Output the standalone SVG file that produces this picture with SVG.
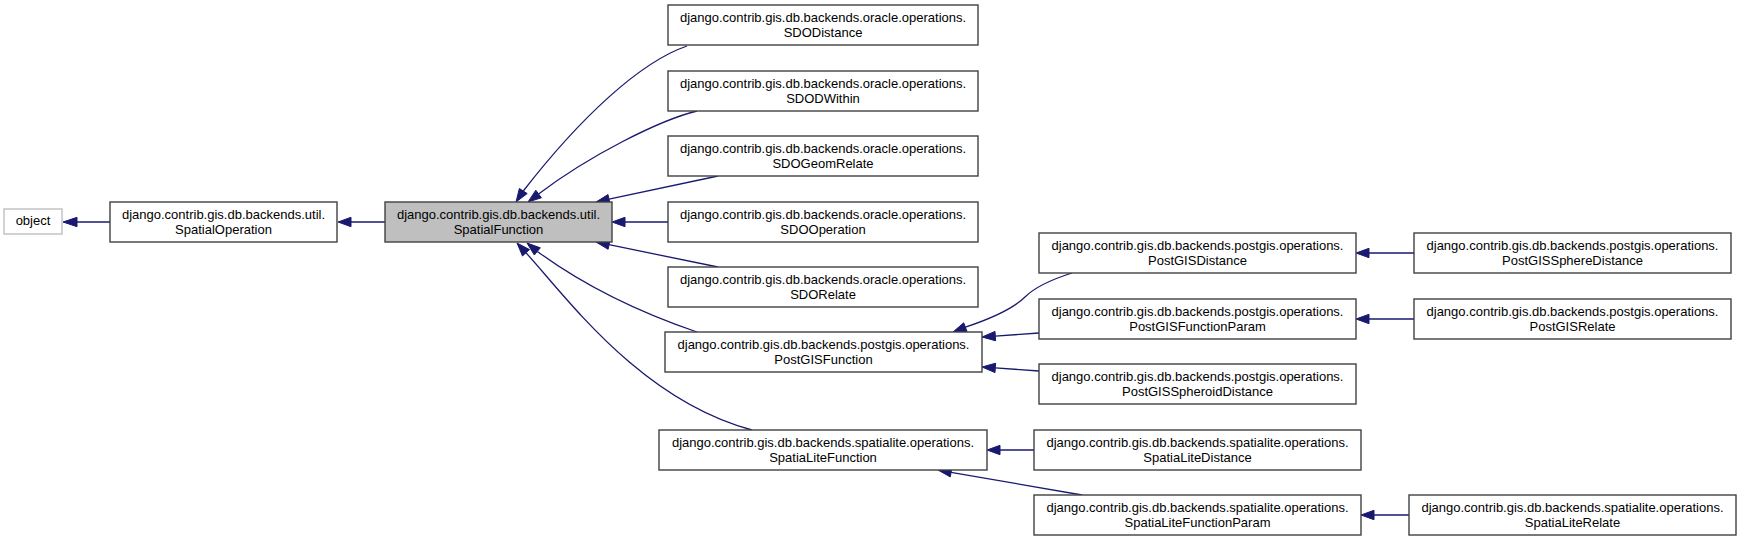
<svg xmlns="http://www.w3.org/2000/svg" width="1741" height="541" viewBox="0 0 1741 541">
<style>
.n rect{fill:#fff;stroke:#404040;stroke-width:1.4}
.n.root rect{fill:#bfbfbf}
.n.ext rect{stroke:#bfbfbf}
.n text{font-family:"Liberation Sans",Arial,sans-serif;font-size:13px;fill:#000;text-anchor:middle}
#edges path{fill:none;stroke:#191970;stroke-width:1.3}
#edges polygon{fill:#191970;stroke:#191970;stroke-width:1}
</style>
<rect width="1741" height="541" fill="#fff"/>
<g id="edges">
<path d="M110,222 L77,222"/><polygon points="63,222 77,217.3 77,226.7"/>
<path d="M385,222 L351,222"/><polygon points="338,222 351,217.3 351,226.7"/>
<path d="M687,46 C640,62 580,118 523.3,191"/><polygon points="516,202 527.2,193.6 519.4,188.4"/>
<path d="M697,111 C660,120 590,155 538.6,194"/><polygon points="528,202 541.4,197.8 535.8,190.2"/>
<path d="M718,176 L609,199.2"/><polygon points="596,202 610,203.8 608,194.6"/>
<path d="M668,222 L625,222"/><polygon points="612,222 625,217.3 625,226.7"/>
<path d="M718,267 L609,244.7"/><polygon points="596,242 608.1,249.3 610,240.1"/>
<path d="M697,332 C650,316 590,290 537.3,251.4"/><polygon points="527,243 534.3,255 540.3,247.8"/>
<path d="M752,430 C640,400 566.5,297 526,252.8"/><polygon points="517,243 522.5,256 529.5,249.6"/>
<path d="M1072,273 C1050,280 1035,287 1025,297 C1012,310 990,319 965.4,327.2"/><polygon points="953,332 967.1,331.6 963.7,322.8"/>
<path d="M1039,333 L995.3,336.1"/><polygon points="982,337 995.6,340.8 995,331.4"/>
<path d="M1039,371 L995.3,367.9"/><polygon points="982,367 995,372.6 995.6,363.2"/>
<path d="M1034,450 L1000,450"/><polygon points="987,450 1000,445.3 1000,454.7"/>
<path d="M1082,495 L951.1,472.3"/><polygon points="938,470 950.3,476.9 951.9,467.7"/>
<path d="M1414,253 L1369,253"/><polygon points="1356,253 1369,248.3 1369,257.7"/>
<path d="M1414,319 L1369,319"/><polygon points="1356,319 1369,314.3 1369,323.7"/>
<path d="M1409,515 L1374,515"/><polygon points="1361,515 1374,510.3 1374,519.7"/>
</g>
<g id="object" class="n ext"><rect x="4" y="209" width="58" height="25"/><text x="33" y="225">object</text></g>
<g id="SpatialOperation" class="n"><rect x="110" y="202" width="227" height="40"/><text x="223.5" y="219">django.contrib.gis.db.backends.util.</text><text x="223.5" y="234">SpatialOperation</text></g>
<g id="SpatialFunction" class="n root"><rect x="385" y="202" width="227" height="40"/><text x="498.5" y="219">django.contrib.gis.db.backends.util.</text><text x="498.5" y="234">SpatialFunction</text></g>
<g id="SDODistance" class="n"><rect x="668" y="5" width="310" height="40"/><text x="823" y="22">django.contrib.gis.db.backends.oracle.operations.</text><text x="823" y="37">SDODistance</text></g>
<g id="SDODWithin" class="n"><rect x="668" y="71" width="310" height="40"/><text x="823" y="88">django.contrib.gis.db.backends.oracle.operations.</text><text x="823" y="103">SDODWithin</text></g>
<g id="SDOGeomRelate" class="n"><rect x="668" y="136" width="310" height="40"/><text x="823" y="153">django.contrib.gis.db.backends.oracle.operations.</text><text x="823" y="168">SDOGeomRelate</text></g>
<g id="SDOOperation" class="n"><rect x="668" y="202" width="310" height="40"/><text x="823" y="219">django.contrib.gis.db.backends.oracle.operations.</text><text x="823" y="234">SDOOperation</text></g>
<g id="SDORelate" class="n"><rect x="668" y="267" width="310" height="40"/><text x="823" y="284">django.contrib.gis.db.backends.oracle.operations.</text><text x="823" y="299">SDORelate</text></g>
<g id="PostGISFunction" class="n"><rect x="665" y="332" width="317" height="40"/><text x="823.5" y="349">django.contrib.gis.db.backends.postgis.operations.</text><text x="823.5" y="364">PostGISFunction</text></g>
<g id="SpatiaLiteFunction" class="n"><rect x="659" y="430" width="328" height="40"/><text x="823" y="447">django.contrib.gis.db.backends.spatialite.operations.</text><text x="823" y="462">SpatiaLiteFunction</text></g>
<g id="PostGISDistance" class="n"><rect x="1039" y="233" width="317" height="40"/><text x="1197.5" y="250">django.contrib.gis.db.backends.postgis.operations.</text><text x="1197.5" y="265">PostGISDistance</text></g>
<g id="PostGISFunctionParam" class="n"><rect x="1039" y="299" width="317" height="40"/><text x="1197.5" y="316">django.contrib.gis.db.backends.postgis.operations.</text><text x="1197.5" y="331">PostGISFunctionParam</text></g>
<g id="PostGISSpheroidDistance" class="n"><rect x="1039" y="364" width="317" height="40"/><text x="1197.5" y="381">django.contrib.gis.db.backends.postgis.operations.</text><text x="1197.5" y="396">PostGISSpheroidDistance</text></g>
<g id="SpatiaLiteDistance" class="n"><rect x="1034" y="430" width="327" height="40"/><text x="1197.5" y="447">django.contrib.gis.db.backends.spatialite.operations.</text><text x="1197.5" y="462">SpatiaLiteDistance</text></g>
<g id="SpatiaLiteFunctionParam" class="n"><rect x="1034" y="495" width="327" height="40"/><text x="1197.5" y="512">django.contrib.gis.db.backends.spatialite.operations.</text><text x="1197.5" y="527">SpatiaLiteFunctionParam</text></g>
<g id="PostGISSphereDistance" class="n"><rect x="1414" y="233" width="317" height="40"/><text x="1572.5" y="250">django.contrib.gis.db.backends.postgis.operations.</text><text x="1572.5" y="265">PostGISSphereDistance</text></g>
<g id="PostGISRelate" class="n"><rect x="1414" y="299" width="317" height="40"/><text x="1572.5" y="316">django.contrib.gis.db.backends.postgis.operations.</text><text x="1572.5" y="331">PostGISRelate</text></g>
<g id="SpatiaLiteRelate" class="n"><rect x="1409" y="495" width="327" height="40"/><text x="1572.5" y="512">django.contrib.gis.db.backends.spatialite.operations.</text><text x="1572.5" y="527">SpatiaLiteRelate</text></g>
</svg>
